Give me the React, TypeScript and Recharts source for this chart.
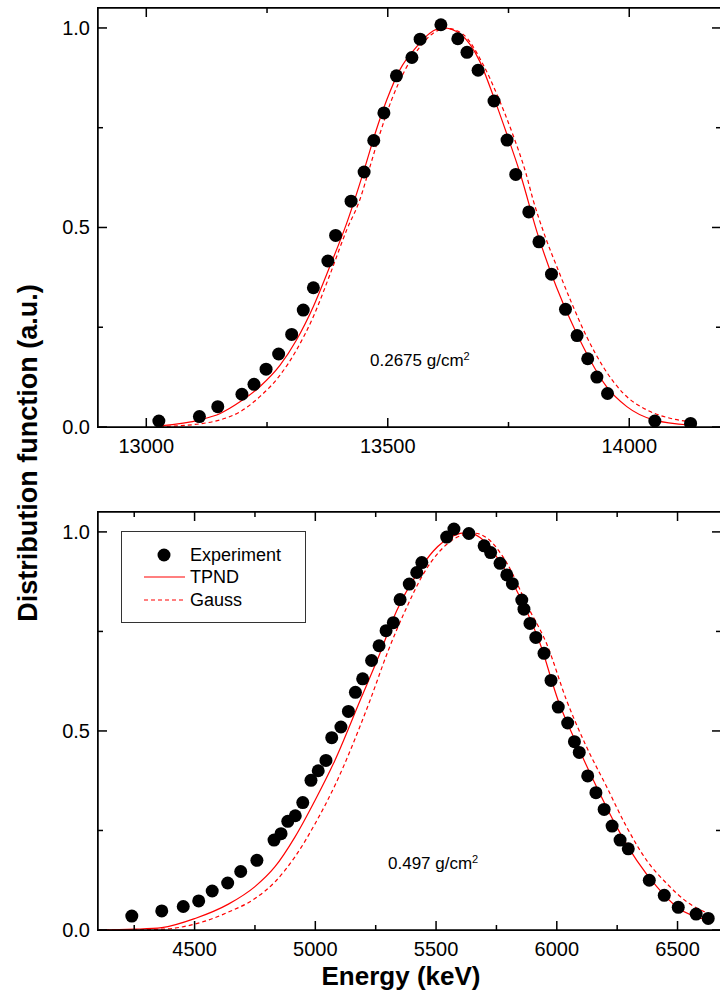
import React from 'react';
import { ComposedChart, Scatter, Line, XAxis, YAxis, Legend } from 'recharts';

const FONT = '"Liberation Sans", Arial, Helvetica, sans-serif';

// 0.2675 g/cm2 absorber (upper panel)
const thinExpEnergy = [13026, 13110, 13148, 13198, 13223, 13248, 13274, 13301, 13325, 13346, 13376, 13392, 13424, 13451, 13471, 13492, 13518, 13550, 13567, 13610, 13645, 13664, 13687, 13720, 13747, 13765, 13792, 13813, 13839, 13868, 13892, 13914, 13933, 13955, 14053, 14127];
const thinExpValue = [0.015, 0.026, 0.051, 0.082, 0.107, 0.145, 0.183, 0.232, 0.293, 0.349, 0.416, 0.48, 0.566, 0.639, 0.718, 0.787, 0.88, 0.926, 0.972, 1.008, 0.973, 0.939, 0.894, 0.817, 0.719, 0.633, 0.539, 0.464, 0.383, 0.295, 0.229, 0.171, 0.125, 0.084, 0.015, 0.009];

const thinTpndEnergy = [13028, 13111, 13153, 13194, 13235, 13277, 13311, 13346, 13380, 13415, 13453, 13474, 13498, 13525, 13560, 13587, 13615, 13650, 13691, 13719, 13746, 13774, 13812, 13836, 13863, 13891, 13919, 13953, 13995, 14050, 14126];
const thinTpndValue = [0.003, 0.018, 0.034, 0.063, 0.101, 0.155, 0.218, 0.302, 0.402, 0.511, 0.652, 0.736, 0.82, 0.895, 0.953, 0.987, 1.0, 0.985, 0.915, 0.828, 0.736, 0.636, 0.477, 0.393, 0.31, 0.235, 0.168, 0.101, 0.051, 0.018, 0.005];

const thinGaussEnergy = [13028, 13111, 13153, 13194, 13235, 13277, 13311, 13346, 13380, 13415, 13442, 13463, 13484, 13508, 13536, 13567, 13594, 13622, 13655, 13698, 13728, 13758, 13786, 13801, 13826, 13853, 13881, 13912, 13946, 13988, 14036, 14078, 14126];
const thinGaussValue = [0.001, 0.008, 0.018, 0.038, 0.076, 0.13, 0.193, 0.277, 0.381, 0.494, 0.569, 0.652, 0.736, 0.82, 0.895, 0.953, 0.987, 0.999, 0.985, 0.907, 0.828, 0.736, 0.636, 0.569, 0.477, 0.393, 0.31, 0.226, 0.151, 0.084, 0.043, 0.024, 0.013];

// 0.497 g/cm2 absorber (lower panel)
const thickExpEnergy = [4240, 4364, 4453, 4517, 4573, 4637, 4691, 4758, 4829, 4858, 4886, 4917, 4948, 4982, 5012, 5044, 5068, 5106, 5137, 5166, 5196, 5233, 5264, 5293, 5323, 5351, 5389, 5420, 5441, 5544, 5574, 5636, 5699, 5726, 5765, 5793, 5816, 5855, 5864, 5889, 5913, 5947, 5976, 6006, 6045, 6073, 6093, 6128, 6162, 6196, 6229, 6262, 6296, 6383, 6445, 6503, 6577, 6627];
const thickExpValue = [0.035, 0.048, 0.059, 0.073, 0.098, 0.118, 0.147, 0.175, 0.226, 0.242, 0.273, 0.287, 0.32, 0.376, 0.4, 0.426, 0.483, 0.51, 0.549, 0.597, 0.631, 0.677, 0.714, 0.752, 0.772, 0.83, 0.869, 0.898, 0.923, 0.987, 1.007, 0.996, 0.965, 0.948, 0.921, 0.892, 0.87, 0.829, 0.806, 0.77, 0.735, 0.695, 0.627, 0.56, 0.52, 0.473, 0.446, 0.387, 0.345, 0.303, 0.261, 0.226, 0.204, 0.125, 0.087, 0.057, 0.04, 0.029];

const thickTpndEnergy = [4100, 4250, 4364, 4502, 4640, 4750, 4833, 4916, 4999, 5081, 5185, 5261, 5337, 5420, 5489, 5571, 5627, 5682, 5765, 5855, 5931, 6006, 6082, 6165, 6248, 6331, 6414, 6497, 6627];
const thickTpndValue = [0.0, 0.002, 0.006, 0.029, 0.065, 0.109, 0.159, 0.234, 0.326, 0.426, 0.576, 0.685, 0.802, 0.894, 0.952, 0.99, 0.998, 0.986, 0.925, 0.827, 0.719, 0.576, 0.468, 0.359, 0.259, 0.175, 0.109, 0.058, 0.025];

const thickGaussEnergy = [4100, 4364, 4502, 4640, 4750, 4833, 4916, 4999, 5081, 5226, 5302, 5378, 5447, 5516, 5599, 5654, 5710, 5790, 5882, 5958, 6041, 6117, 6207, 6289, 6372, 6455, 6538, 6641];
const thickGaussValue = [0.0, 0.002, 0.015, 0.045, 0.079, 0.121, 0.184, 0.267, 0.363, 0.576, 0.702, 0.81, 0.894, 0.952, 0.99, 0.997, 0.985, 0.925, 0.81, 0.719, 0.576, 0.468, 0.359, 0.259, 0.175, 0.117, 0.071, 0.038];

const thinTicks = [13000, 13250, 13500, 13750, 14000];
const thickTicks = [4250, 4500, 4750, 5000, 5250, 5500, 5750, 6000, 6250, 6500];
const yTicks = [0, 0.25, 0.5, 0.75, 1.0];
const yDomain: [number, number] = [0, 1.05];

const zip = (xs: number[], ys: number[]) => xs.map((x, i) => ({ x, y: ys[i] }));

const INK = '#000';
const AXIS_W = 1.5;

const isMajorX = (v: number) => v % 500 === 0;
const isMajorY = (v: number) => Math.abs(v * 2 - Math.round(v * 2)) < 1e-6;

// inward tick marks (drawn as thin filled bars); labels only on bottom / left
const makeTick = (side: 'b' | 't' | 'l' | 'r') => (props: any) => {
  const { x, y, payload } = props;
  const v = payload.value;
  const major = side === 'b' || side === 't' ? isMajorX(v) : isMajorY(v);
  const len = major ? 9 : 5;
  const h = AXIS_W;
  let mark;
  if (side === 'b') mark = <rect x={x - h / 2} y={y - len} width={h} height={len} fill={INK} />;
  else if (side === 't') mark = <rect x={x - h / 2} y={y} width={h} height={len} fill={INK} />;
  else if (side === 'l') mark = <rect x={x} y={y - h / 2} width={len} height={h} fill={INK} />;
  else mark = <rect x={x - len} y={y - h / 2} width={len} height={h} fill={INK} />;
  return (
    <g>
      {mark}
      {major && side === 'b' && (
        <text x={x} y={y + 26} textAnchor="middle" fontFamily={FONT} fontSize={20} fill={INK}>
          {v}
        </text>
      )}
      {major && side === 'l' && (
        <text x={x - 8} y={y + 7} textAnchor="end" fontFamily={FONT} fontSize={20} fill={INK}>
          {v.toFixed(1)}
        </text>
      )}
    </g>
  );
};

const Dot = (props: any) => <circle cx={props.cx} cy={props.cy} r={6.5} fill="#000" />;

const LegendBox = () => (
  <svg width={186} height={93} style={{ display: 'block' }}>
    <rect x={0.5} y={0.5} width={184} height={91} fill="#fff" stroke="#333" strokeWidth={1} />
    <circle cx={43} cy={24} r={6.5} fill="#000" />
    <text x={69} y={30.4} fontFamily={FONT} fontSize={18} fill="#000">Experiment</text>
    <line x1={23} x2={64} y1={46} y2={46} stroke="#ff0000" strokeWidth={1.2} />
    <text x={69} y={52.4} fontFamily={FONT} fontSize={18} fill="#000">TPND</text>
    <line x1={23} x2={64} y1={69} y2={69} stroke="#ff0000" strokeWidth={1.2} strokeDasharray="4 3" />
    <text x={69} y={75.4} fontFamily={FONT} fontSize={18} fill="#000">Gauss</text>
  </svg>
);

interface PanelProps {
  top: number;
  height: number;
  marginTop: number;
  marginBottom: number;
  domain: [number, number];
  ticks: number[];
  exp: { x: number; y: number }[];
  tpnd: { x: number; y: number }[];
  gauss: { x: number; y: number }[];
  showLegend?: boolean;
}

const Panel: React.FC<PanelProps> = ({ top, height, marginTop, marginBottom, domain, ticks, exp, tpnd, gauss, showLegend }) => (
  <div style={{ position: 'absolute', left: 0, top }}>
    <ComposedChart width={722} height={height} margin={{ top: marginTop - 1, right: 0, bottom: marginBottom - 1, left: 38 }}>
      <XAxis type="number" dataKey="x" domain={domain} ticks={ticks} allowDataOverflow interval={0} height={1}
        tickSize={0} tickMargin={0} tickLine={false} stroke={INK} strokeWidth={AXIS_W} axisLine tick={makeTick('b')} />
      <XAxis xAxisId="top" orientation="top" type="number" dataKey="x" domain={domain} ticks={ticks} allowDataOverflow interval={0} height={1}
        tickSize={0} tickMargin={0} tickLine={false} stroke={INK} strokeWidth={AXIS_W} axisLine tick={makeTick('t')} />
      <YAxis type="number" dataKey="y" domain={yDomain} ticks={yTicks} allowDataOverflow interval={0} width={60}
        tickSize={0} tickMargin={0} tickLine={false} stroke={INK} strokeWidth={AXIS_W} axisLine tick={makeTick('l')} />
      <YAxis yAxisId="right" orientation="right" type="number" dataKey="y" domain={yDomain} ticks={yTicks} allowDataOverflow interval={0} width={1}
        tickSize={0} tickMargin={0} tickLine={false} stroke={INK} strokeWidth={AXIS_W} axisLine tick={makeTick('r')} />
      {showLegend && (
        <Legend
          layout="horizontal"
          verticalAlign="middle"
          align="center"
          content={LegendBox}
          wrapperStyle={{ left: 121, top: 51, width: 186, height: 93 }}
        />
      )}
      <Scatter data={exp} shape={Dot} isAnimationActive={false} />
      <Line data={tpnd} dataKey="y" type="monotone" stroke="#ff0000" strokeWidth={1.2} dot={false} activeDot={false} isAnimationActive={false} />
      <Line data={gauss} dataKey="y" type="monotone" stroke="#ff0000" strokeWidth={1.2} strokeDasharray="4 3" dot={false} activeDot={false} isAnimationActive={false} />
    </ComposedChart>
    {/* plot frame, matching the chart margins above */}
    <div
      style={{
        position: 'absolute',
        left: 97,
        top: marginTop - 1,
        width: 625,
        height: height - marginTop - marginBottom + 2,
        border: '1.5px solid #000',
        boxSizing: 'border-box',
        pointerEvents: 'none',
      }}
    />
  </div>
);

const labelBase: React.CSSProperties = { position: 'absolute', fontFamily: FONT, color: '#000', lineHeight: 1, whiteSpace: 'nowrap' };

const App: React.FC = () => (
  <div style={{ position: 'absolute', left: 0, top: 0, width: 720, height: 998, overflow: 'hidden', background: '#fff' }}>
    <Panel
      top={0}
      height={470}
      marginTop={8}
      marginBottom={43}
      domain={[12900, 14190]}
      ticks={thinTicks}
      exp={zip(thinExpEnergy, thinExpValue)}
      tpnd={zip(thinTpndEnergy, thinTpndValue)}
      gauss={zip(thinGaussEnergy, thinGaussValue)}
    />
    <Panel
      top={480}
      height={500}
      marginTop={32}
      marginBottom={50}
      domain={[4100, 6680]}
      ticks={thickTicks}
      exp={zip(thickExpEnergy, thickExpValue)}
      tpnd={zip(thickTpndEnergy, thickTpndValue)}
      gauss={zip(thickGaussEnergy, thickGaussValue)}
      showLegend
    />
    <div style={{ ...labelBase, left: 28, top: 453, fontSize: 27, fontWeight: 700, transform: 'translate(-50%, -50%) rotate(-90deg)' }}>
      Distribution function (a.u.)
    </div>
    <div style={{ ...labelBase, left: 401, top: 963, fontSize: 26, fontWeight: 700, transform: 'translateX(-50%)' }}>
      Energy (keV)
    </div>
    <div style={{ ...labelBase, left: 370, top: 352, fontSize: 17 }}>
      0.2675 g/cm<span style={{ fontSize: 11, position: 'relative', top: -6 }}>2</span>
    </div>
    <div style={{ ...labelBase, left: 388, top: 855, fontSize: 17 }}>
      0.497 g/cm<span style={{ fontSize: 11, position: 'relative', top: -6 }}>2</span>
    </div>
  </div>
);

export default App;
